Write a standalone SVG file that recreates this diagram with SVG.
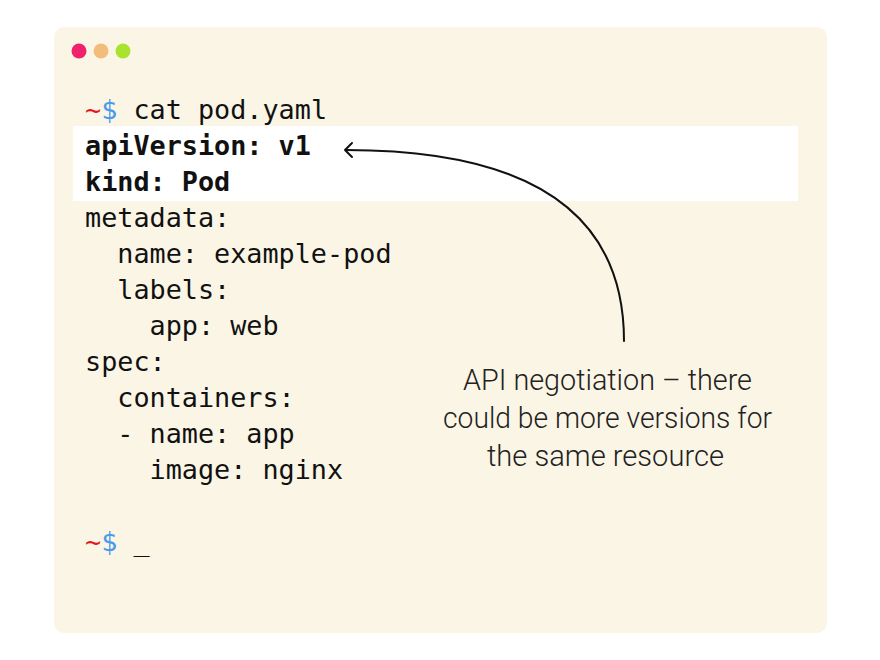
<svg xmlns="http://www.w3.org/2000/svg" width="880" height="660" viewBox="0 0 880 660">
<style>
.code{font-family:"DejaVu Sans Mono","Liberation Mono",monospace;font-size:26.8px;fill:#111}
.b{font-weight:bold}
.tilde{fill:#E3141B}
.dollar{fill:#4A9BEF}
.note{font-family:"Roboto","DejaVu Sans",sans-serif;font-weight:300;font-size:30px;fill:#222}
.conn{fill:none;stroke:#111;stroke-width:2;stroke-linecap:round;stroke-linejoin:round}
</style>
<rect width="880" height="660" fill="#FFFFFF"/>
<g id="terminal">
<rect x="54" y="27" width="773" height="606" rx="10" fill="#FBF5E5"/>
<circle cx="79" cy="51" r="7.5" fill="#F1226C"/>
<circle cx="101" cy="51" r="7.5" fill="#F2BD7A"/>
<circle cx="123" cy="51" r="7.5" fill="#A9E22F"/>
</g>
<g id="highlight">
<rect x="73" y="126" width="725" height="75" fill="#FFFFFF"/>
</g>
<g id="code">
<text class="code" x="85" y="119"><tspan class="tilde">~</tspan><tspan class="dollar">$</tspan> cat pod.yaml</text>
<text class="code b" x="85" y="155">apiVersion: v1</text>
<text class="code b" x="85" y="191">kind: Pod</text>
<text class="code" x="85" y="227">metadata:</text>
<text class="code" x="85" y="263" xml:space="preserve">  name: example-pod</text>
<text class="code" x="85" y="299" xml:space="preserve">  labels:</text>
<text class="code" x="85" y="335" xml:space="preserve">    app: web</text>
<text class="code" x="85" y="371">spec:</text>
<text class="code" x="85" y="407" xml:space="preserve">  containers:</text>
<text class="code" x="85" y="443" xml:space="preserve">  - name: app</text>
<text class="code" x="85" y="479" xml:space="preserve">    image: nginx</text>
<text class="code" x="85" y="551"><tspan class="tilde">~</tspan><tspan class="dollar">$</tspan> _</text>
</g>
<g id="connectors">
<path class="conn" d="M624 341 C624 220 540 150 346 150"/>
<path class="conn" d="M352 143 L345 150 L352 157"/>
</g>
<g id="annotation">
<text class="note" x="463" y="390" textLength="289" lengthAdjust="spacingAndGlyphs">API negotiation – there</text>
<text class="note" x="443" y="428" textLength="329" lengthAdjust="spacingAndGlyphs">could be more versions for</text>
<text class="note" x="487" y="466" textLength="237" lengthAdjust="spacingAndGlyphs">the same resource</text>
</g>
</svg>
